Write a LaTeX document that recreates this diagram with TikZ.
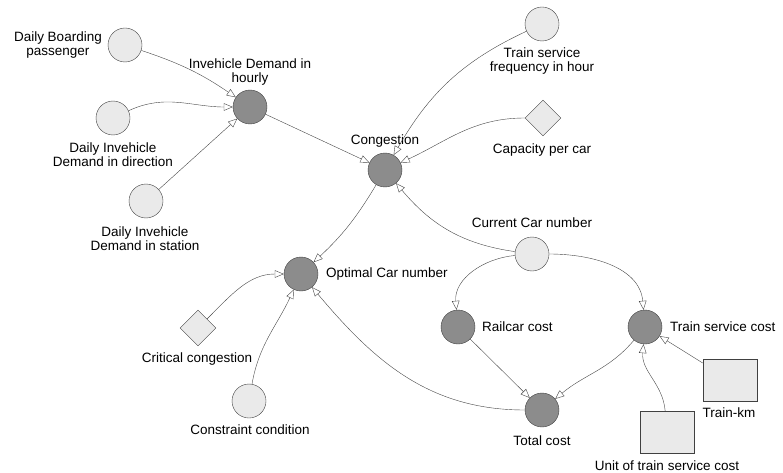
\documentclass[tikz,border=0pt]{standalone}
\usepackage{fontspec}
\setmainfont{Liberation Sans}
\definecolor{vardark}{RGB}{140,140,140}
\definecolor{varlight}{RGB}{234,234,234}
\definecolor{edgegray}{RGB}{70,70,70}
\usetikzlibrary{arrows.meta,positioning,shapes.geometric}

\begin{document}
\begin{tikzpicture}[
  x=1pt, y=-1pt,
  auxvar/.style={
    circle, minimum size=34pt, inner sep=0pt,
    draw=black!75, fill=varlight
  },
  calcvar/.style={auxvar, fill=vardark},
  constvar/.style={
    diamond, minimum size=36pt, inner sep=0pt,
    draw=black!75, fill=varlight
  },
  stockvar/.style={
    rectangle, minimum width=54pt, minimum height=42pt, inner sep=0pt,
    draw=black!75, fill=varlight
  },
  varlabel/.style={font=\fontsize{13.5}{14}\selectfont, align=center, inner sep=0pt},
  link/.style={-{Triangle[open, length=9pt, width=7.5pt]}, draw=edgegray, thin}
]
\useasboundingbox (0,0) rectangle (783,473);

% variables
\node[auxvar]   (board)   at (125,45)  {};
\node[calcvar]  (hourly)  at (250,107) {};
\node[auxvar]   (dirdem)  at (113,118) {};
\node[auxvar]   (stadem)  at (146,201) {};
\node[calcvar]  (congest) at (385,170) {};
\node[auxvar]   (freq)    at (542,24)  {};
\node[constvar] (capa)    at (543,118) {};
\node[auxvar]   (curcar)  at (532,254) {};
\node[calcvar]  (optcar)  at (301,274) {};
\node[constvar] (critcon) at (198,328) {};
\node[auxvar]   (constr)  at (249,401) {};
\node[calcvar]  (railc)   at (458,327) {};
\node[calcvar]  (servc)   at (645,327) {};
\node[calcvar]  (totalc)  at (542,410) {};
\node[stockvar] (trainkm) at (730,380) {};
\node[stockvar] (unitc)   at (667,432) {};

% labels
\node[varlabel, anchor=east]   (board-l)   at (102,45)  {Daily Boarding\\passenger};
\node[varlabel]                (hourly-l)  at (250,72)  {Invehicle Demand in\\hourly};
\node[varlabel]                (dirdem-l)  at (113,155) {Daily Invehicle\\Demand in direction};
\node[varlabel]                (stadem-l)  at (145,239) {Daily Invehicle\\Demand in station};
\node[varlabel]                (congest-l) at (385,141) {Congestion};
\node[varlabel]                (freq-l)    at (542,61)  {Train service\\frequency in hour};
\node[varlabel]                (capa-l)    at (542,150) {Capacity per car};
\node[varlabel]                (curcar-l)  at (532,223) {Current Car number};
\node[varlabel, anchor=west]   (optcar-l)  at (326,274) {Optimal Car number};
\node[varlabel]                (critcon-l) at (197,359) {Critical congestion};
\node[varlabel]                (constr-l)  at (250,430) {Constraint condition};
\node[varlabel, anchor=west]   (railc-l)   at (482,327) {Railcar cost};
\node[varlabel, anchor=west]   (servc-l)   at (670,327) {Train service cost};
\node[varlabel]                (totalc-l)  at (542,441) {Total cost};
\node[varlabel]                (trainkm-l) at (729,413) {Train-km};
\node[varlabel]                (unitc-l)   at (667,466) {Unit of train service cost};

% links
\draw[link] (board) to[bend left=8] (hourly);
\draw[link] (dirdem) to[out=25, in=180] (hourly);
\draw[link] (stadem) -- (hourly);
\draw[link] (hourly) to[out=-25, in=155] (congest);
\draw[link] (freq) to[out=205, in=60] (congest);
\draw[link] (capa) to[out=180, in=25] (congest);
\draw[link] (curcar) to[out=172, in=-50] (congest);
\draw[link] (congest) to[bend left=8] (optcar);
\draw[link] (critcon) to[out=45, in=180] (optcar);
\draw[link] (constr) to[out=80, in=245] (optcar);
\draw[link] (totalc) to[out=180, in=-50] (optcar);
\draw[link] (curcar) to[out=185, in=95] (railc);
\draw[link] (curcar) to[out=0, in=95] (servc);
\draw[link] (railc) -- (totalc);
\draw[link] (servc) to[out=230, in=40] (totalc);
\draw[link] (trainkm) -- (servc);
\draw[link] (unitc) to[out=95, in=265] (servc);
\end{tikzpicture}
\end{document}
